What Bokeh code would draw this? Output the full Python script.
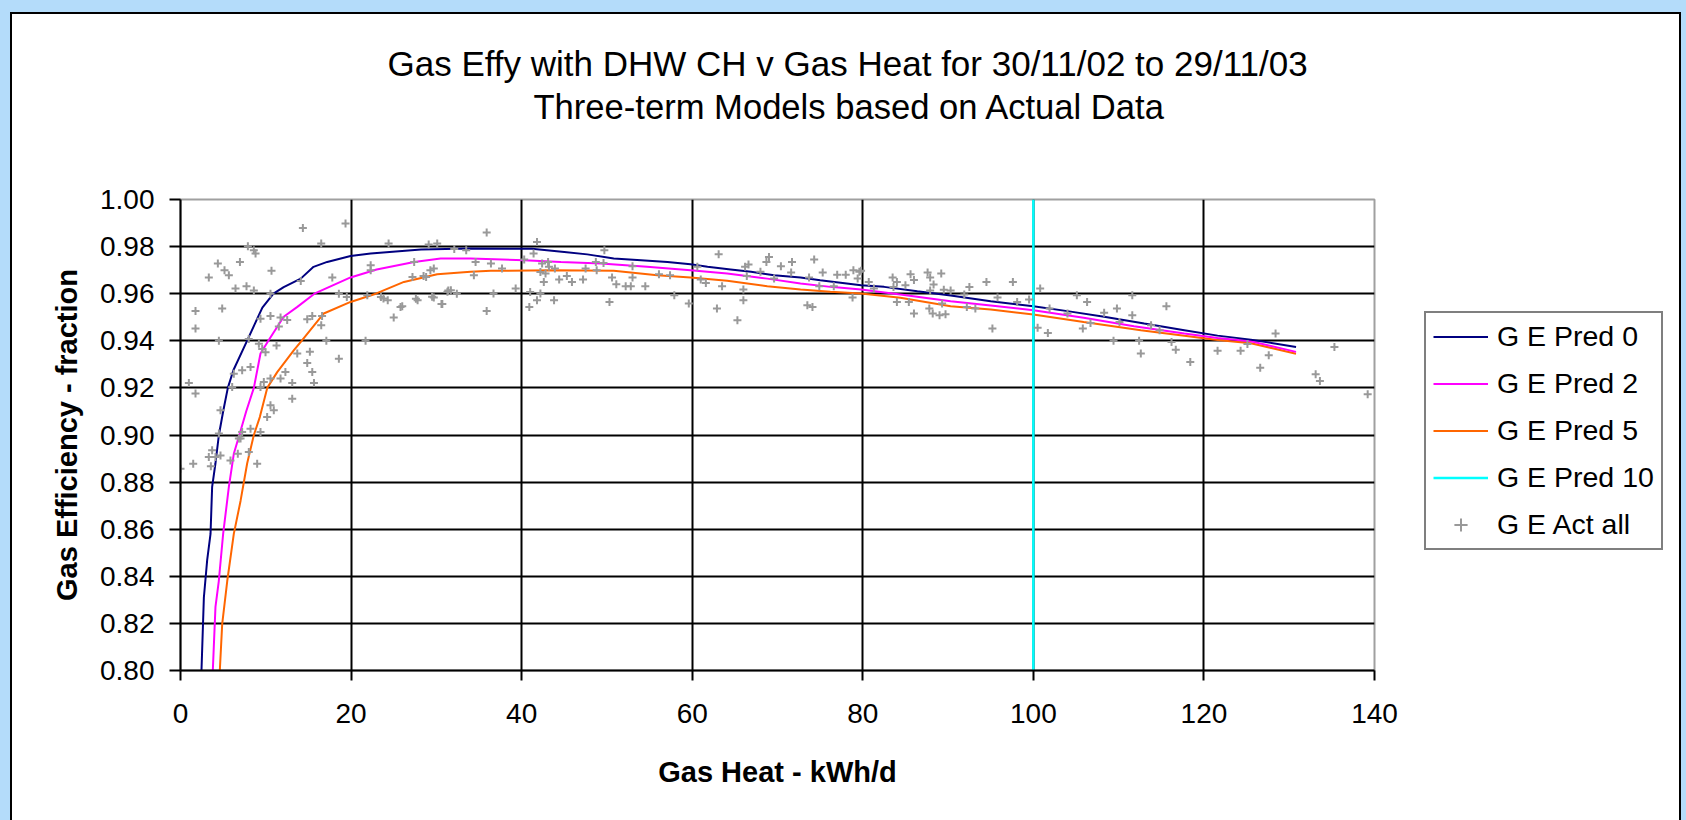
import numpy as np
from bokeh.plotting import figure
from bokeh.layouts import row
from bokeh.models import Range1d, FixedTicker, PrintfTickFormatter, Legend, LegendItem, Title
from bokeh.embed import file_html
from bokeh.resources import INLINE

FONT = "Liberation Sans"

title_line1 = "Gas Effy with DHW CH v Gas Heat for 30/11/02 to 29/11/03"
title_line2 = "Three-term Models based on Actual Data"
x_label = "Gas Heat - kWh/d"
y_label = "Gas Efficiency - fraction"

x_ticks = [0, 20, 40, 60, 80, 100, 120, 140]
y_ticks = [0.80, 0.82, 0.84, 0.86, 0.88, 0.90, 0.92, 0.94, 0.96, 0.98, 1.00]

series_names = ["G E Pred 0", "G E Pred 2", "G E Pred 5", "G E Pred 10", "G E Act all"]

pred0_x = [2.46, 2.74, 3.13, 3.52, 3.71, 4.1, 4.5, 5.0, 5.55, 6.2, 7.8, 9.6, 10.9, 12.1, 14.1, 15.6,
           17.2, 19.94, 22.3, 28.2, 34.0, 41.2, 45.0, 47.7, 50.8, 54.0, 57.1, 59.8, 61.8, 64.5, 66.9,
           69.6, 72.7, 75.0, 79.8, 82.5, 86.4, 90.3, 95.0, 100.0, 104.0, 108.3, 113.0, 117.7, 121.6,
           125.5, 130.8]
pred0_y = [0.800, 0.831, 0.847, 0.858, 0.878, 0.888, 0.900, 0.910, 0.920, 0.9275, 0.940, 0.9541,
           0.960, 0.9628, 0.9664, 0.9714, 0.9735, 0.976, 0.9771, 0.9788, 0.9792, 0.9791, 0.9777,
           0.9767, 0.9749, 0.9742, 0.9735, 0.9725, 0.9714, 0.9703, 0.9693, 0.9678, 0.9669, 0.9657,
           0.9636, 0.9629, 0.961, 0.9592, 0.9568, 0.9547, 0.9526, 0.9502, 0.9473, 0.9445, 0.9422,
           0.9405, 0.9374]

pred2_x = [3.79, 4.1, 4.49, 5.0, 5.67, 6.25, 6.9, 7.7, 8.6, 9.38, 10.3, 12.1, 13.7, 15.7, 19.94,
           23.0, 27.4, 30.5, 34.0, 40.3, 44.6, 49.3, 54.7, 59.8, 64.1, 68.8, 72.7, 76.2, 79.8, 84.4,
           90.3, 95.0, 100.0, 105.9, 111.8, 117.7, 121.6, 125.5, 130.8]
pred2_y = [0.800, 0.827, 0.838, 0.858, 0.878, 0.892, 0.900, 0.910, 0.920, 0.9346, 0.940, 0.9502,
           0.9544, 0.960, 0.9669, 0.9703, 0.9735, 0.9749, 0.9749, 0.9742, 0.9735, 0.9728, 0.9714,
           0.970, 0.9686, 0.9664, 0.9643, 0.9629, 0.9618, 0.9597, 0.9568, 0.955, 0.953, 0.9498,
           0.9462, 0.9431, 0.9412, 0.9398, 0.9353]

pred5_x = [4.61, 4.89, 5.48, 6.25, 7.04, 7.82, 8.6, 9.3, 10.17, 11.34, 13.3, 14.2, 16.8, 19.94,
           22.9, 26.2, 30.1, 34.0, 36.4, 43.8, 50.8, 55.9, 59.8, 64.1, 68.8, 72.7, 76.2, 79.8, 84.4,
           90.3, 95.0, 100.0, 105.9, 112.6, 117.7, 121.6, 125.5, 130.8]
pred5_y = [0.800, 0.8198, 0.838, 0.858, 0.872, 0.888, 0.900, 0.9076, 0.920, 0.9267, 0.936, 0.940,
           0.9516, 0.9565, 0.960, 0.965, 0.9683, 0.9693, 0.9697, 0.970, 0.9697, 0.9678, 0.9669,
           0.9655, 0.9632, 0.9618, 0.9608, 0.9601, 0.9583, 0.9547, 0.9533, 0.9512, 0.948, 0.9445,
           0.9421, 0.9403, 0.939, 0.9345]

pred10_x = [100.0, 100.0]
pred10_y = [0.80, 1.00]

act_x = [14.35, 19.35, 7.9, 8.6, 8.8, 16.5, 4.38, 6.97, 5.16, 5.67, 3.32, 10.67, 17.8, 6.45, 7.74,
         8.6, 14.1, 1.76, 4.89, 1.76, 10.55, 9.38, 10.55, 11.73, 12.51, 14.86, 15.45, 16.6, 16.5,
         11.53, 4.5, 8.0, 9.19, 9.58, 9.97, 11.26, 13.69, 15.17, 17.1, 18.57, 14.86, 15.45, 15.65,
         13.1, 12.3, 11.73, 10.55, 9.77, 8.21, 7.23, 6.25, 6.06, 0.98, 1.76, 9.38, 13.1, 10.55,
         10.94, 10.16, 8.21, 9.38, 7.23, 6.84, 4.69, 4.5, 3.71, 4.1, 3.32,
         0.0, 1.49, 4.69, 3.56, 5.86, 6.72, 7.04, 8.99, 8.01,
         21.7, 18.57, 23.8, 25.8, 25.0, 27.6, 29.7, 30.6, 32.4, 31.4, 22.3, 22.3, 27.4, 29.3, 28.5,
         24.4, 29.1, 30.1, 32.1,
         21.9, 23.5, 24.3, 27.8, 29.7, 28.8, 19.5,
         33.5, 36.4, 37.7, 34.6, 34.4, 31.7, 31.3, 29.5, 30.7, 36.7, 39.3, 26.0, 27.2,
         35.9, 35.9, 41.8, 41.4, 40.3, 42.4, 43.1, 42.2, 42.8, 43.2, 43.9, 42.6, 44.4, 45.3, 45.9,
         47.2, 47.5, 48.8, 48.7, 49.7, 49.6, 50.6, 51.1, 52.2, 52.8, 53.0, 53.0, 54.5, 50.3, 57.9,
         59.6, 56.1, 57.4, 41.0, 41.8, 40.9, 42.2, 43.8, 60.6, 61.0, 61.6, 63.1, 63.5, 62.9, 65.3,
         66.0, 66.0, 66.2, 66.6, 66.4, 68.0, 68.7, 69.0, 69.6, 70.4, 71.7, 71.6, 74.3, 73.7, 73.5,
         74.1, 75.3, 74.9, 77.0, 78.0, 78.9, 79.6, 78.8, 76.6,
         79.8, 79.4, 80.7, 81.3, 83.5, 84.0, 83.6, 85.6, 86.0, 85.0, 87.6, 87.9, 89.2, 88.3, 87.9,
         89.5, 90.3, 91.9, 92.5, 84.0, 85.4, 86.0, 87.8, 88.2, 89.0, 89.7, 89.3, 92.2, 93.2, 94.5,
         95.2, 95.8, 97.6, 98.1, 99.5, 100.8, 100.5, 101.7, 101.9, 104.0, 105.1, 106.3, 105.8,
         106.7, 108.3, 109.8, 109.4, 110.1, 111.6, 111.6, 112.4, 112.6, 113.8, 114.8, 115.6, 116.2,
         116.7, 118.4, 121.6, 124.3, 125.1,
         128.4, 127.6, 126.6, 135.3, 133.1, 133.6, 139.2]
act_y = [0.9879, 0.9898, 0.9802, 0.9785, 0.9771, 0.9813, 0.9728, 0.9735, 0.970, 0.9678, 0.9669,
         0.9697, 0.9669, 0.9622, 0.9632, 0.9614, 0.9654, 0.9527, 0.9537, 0.9452, 0.960, 0.9494,
         0.9505, 0.9499, 0.9488, 0.9491, 0.9505, 0.9505, 0.9466, 0.9461, 0.940, 0.9408, 0.9387,
         0.9365, 0.9351, 0.938, 0.9346, 0.9353, 0.940, 0.9324, 0.9306, 0.9267, 0.9221, 0.9221,
         0.9267, 0.924, 0.924, 0.9225, 0.9289, 0.9275, 0.926, 0.9204, 0.9221, 0.9176, 0.9204,
         0.9154, 0.9126, 0.9105, 0.9076, 0.9027, 0.9013, 0.9013, 0.8985, 0.9105, 0.9006, 0.8935,
         0.8907, 0.8907,
         0.8857, 0.8878, 0.8913, 0.8867, 0.8892, 0.892, 0.8985, 0.8878, 0.8928,
         0.940, 0.960, 0.958, 0.9544, 0.9499, 0.9579, 0.9584, 0.9556, 0.960, 0.9614, 0.9721, 0.970,
         0.9735, 0.970, 0.9675, 0.9813, 0.9809, 0.9813, 0.979,
         0.9593, 0.9586, 0.9572, 0.9572, 0.9707, 0.9671, 0.9586,
         0.9785, 0.9728, 0.9707, 0.9735, 0.9678, 0.9615, 0.9608, 0.9587, 0.9556, 0.9601, 0.9622,
         0.9547, 0.9671,
         0.986, 0.9527, 0.982, 0.9771, 0.9745, 0.9728, 0.9735, 0.9692, 0.9686, 0.9714, 0.9707,
         0.965, 0.966, 0.9675, 0.965, 0.966, 0.9707, 0.970, 0.9735, 0.9785, 0.973, 0.9669, 0.964,
         0.9632, 0.9632, 0.9669, 0.9717, 0.9632, 0.9565, 0.9593, 0.9558, 0.9683, 0.9678, 0.9607,
         0.9572, 0.9544, 0.9601, 0.9572, 0.9714, 0.966, 0.9645, 0.9768, 0.9632, 0.9537, 0.9487,
         0.9618, 0.9572, 0.9714, 0.9724, 0.9675, 0.9693, 0.9735, 0.9756, 0.9665, 0.9717, 0.9735,
         0.969, 0.9745, 0.9669, 0.9551, 0.9544, 0.969, 0.9632, 0.968, 0.968, 0.970, 0.9693, 0.9584,
         0.9632,
         0.9697, 0.9665, 0.965, 0.9622, 0.9669, 0.965, 0.9628, 0.9683, 0.9658, 0.9636, 0.969,
         0.9669, 0.9686, 0.9639, 0.9614, 0.9617, 0.9614, 0.9597, 0.9628, 0.9565, 0.9565, 0.9516,
         0.9537, 0.9516, 0.9509, 0.9513, 0.9558, 0.9544, 0.9537, 0.965, 0.9452, 0.9584, 0.965,
         0.9565, 0.9575, 0.9622, 0.9455, 0.9433, 0.9537, 0.9516, 0.9593, 0.9565, 0.9452, 0.9476,
         0.9519, 0.9537, 0.940, 0.948, 0.9593, 0.9509, 0.940, 0.9346, 0.9466, 0.9445, 0.9547,
         0.9395, 0.9362, 0.931, 0.9358, 0.9358, 0.9386,
         0.9431, 0.9339, 0.9286, 0.9374, 0.9258, 0.9229, 0.9173]

colors = {"p0": "#000080", "p2": "#ff00ff", "p5": "#ff6600", "p10": "#00ffff", "act": "#999999"}

# ---------------- main chart ----------------
p = figure(width=1389, height=806,
           x_range=Range1d(x_ticks[0], x_ticks[-1]), y_range=Range1d(y_ticks[0], y_ticks[-1]),
           output_backend="svg", toolbar_location=None, title_location=None,
           min_border_left=168, min_border_right=27, min_border_top=185, min_border_bottom=150,
           border_fill_color="white", background_fill_color="white",
           outline_line_color="#a0a0a0", outline_line_width=2)

# titles: spacer nearest the frame, then line 2, then line 1
spacer = Title(text=" ", text_font=FONT, text_font_size="10px", standoff=59)
t2 = Title(text=title_line2, align="left", offset=353, text_font=FONT,
           text_font_size="34.6px", text_font_style="normal", text_color="black", standoff=4)
t1 = Title(text=title_line1, align="left", offset=207, text_font=FONT,
           text_font_size="35px", text_font_style="normal", text_color="black", standoff=2)
p.add_layout(spacer, "above")
p.add_layout(t2, "above")
p.add_layout(t1, "above")

# axes
p.xaxis.ticker = FixedTicker(ticks=x_ticks)
p.yaxis.ticker = FixedTicker(ticks=y_ticks)
p.yaxis.formatter = PrintfTickFormatter(format="%.2f")
for ax in (p.xaxis, p.yaxis):
    ax.axis_line_color = "black"
    ax.axis_line_width = 2
    ax.major_tick_line_color = "black"
    ax.major_tick_line_width = 2
    ax.major_tick_in = 0
    ax.minor_tick_line_color = None
    ax.major_label_text_font = FONT
    ax.major_label_text_font_size = "28px"
    ax.major_label_text_color = "black"
    ax.axis_label_text_font = FONT
    ax.axis_label_text_font_size = "29px"
    ax.axis_label_text_font_style = "bold"
    ax.axis_label_text_color = "black"
p.xaxis.major_tick_out = 10
p.yaxis.major_tick_out = 11
p.xaxis.major_label_standoff = 23
p.yaxis.major_label_standoff = 15
p.xaxis.axis_label = x_label
p.yaxis.axis_label = y_label
p.xaxis.axis_label_standoff = 30
p.yaxis.axis_label_standoff = 14

# grids
p.xgrid.ticker = FixedTicker(ticks=x_ticks[1:-1])
p.ygrid.ticker = FixedTicker(ticks=y_ticks[1:-1])
p.xgrid.grid_line_color = "black"
p.ygrid.grid_line_color = "black"
p.xgrid.grid_line_width = 2
p.ygrid.grid_line_width = 2

# series
p.line(pred5_x, pred5_y, line_color=colors["p5"], line_width=2)
p.line(pred2_x, pred2_y, line_color=colors["p2"], line_width=2)
p.line(pred0_x, pred0_y, line_color=colors["p0"], line_width=2)
p.line(pred10_x, pred10_y, line_color=colors["p10"], line_width=2.5)
p.scatter(act_x, act_y, marker="cross", size=8, line_color=colors["act"], line_width=2)

# ---------------- legend panel (frame is aligned with the main frame) ----------------
lf = figure(width=278, height=806, x_range=Range1d(0, 1), y_range=Range1d(0, 1),
            x_axis_type=None, y_axis_type=None, output_backend="svg", toolbar_location=None,
            title_location=None, min_border=0, outline_line_color=None,
            border_fill_color="white", background_fill_color="white")
nan = np.array([np.nan])
g0 = lf.line(nan, nan, line_color=colors["p0"], line_width=2)
g2 = lf.line(nan, nan, line_color=colors["p2"], line_width=2)
g5 = lf.line(nan, nan, line_color=colors["p5"], line_width=2)
g10 = lf.line(nan, nan, line_color=colors["p10"], line_width=2.5)
gact = lf.scatter(nan, nan, marker="cross", size=7, line_color=colors["act"], line_width=2)

legend = Legend(items=[LegendItem(label=series_names[0], renderers=[g0]),
                       LegendItem(label=series_names[1], renderers=[g2]),
                       LegendItem(label=series_names[2], renderers=[g5]),
                       LegendItem(label=series_names[3], renderers=[g10]),
                       LegendItem(label=series_names[4], renderers=[gact])],
                location=(23, 120), margin=0, padding=7, spacing=14,
                glyph_width=55, glyph_height=33, label_height=33, label_standoff=9,
                label_text_font=FONT, label_text_font_size="28.5px", label_text_color="black",
                border_line_color="black", border_line_width=2, background_fill_color="white",
                background_fill_alpha=1.0)
lf.add_layout(legend)

layout = row(p, lf, margin=(12, 0, 0, 10),
             styles={"border-left": "2px solid black", "border-top": "2px solid black",
                     "border-right": "2px solid black", "background-color": "white"})

html = file_html(layout, INLINE, title="Gas Effy")
html = html.replace("</head>", "<style>html, body { background-color: #b4dcfa !important; }</style></head>", 1)
open("out.html", "w").write(html)
